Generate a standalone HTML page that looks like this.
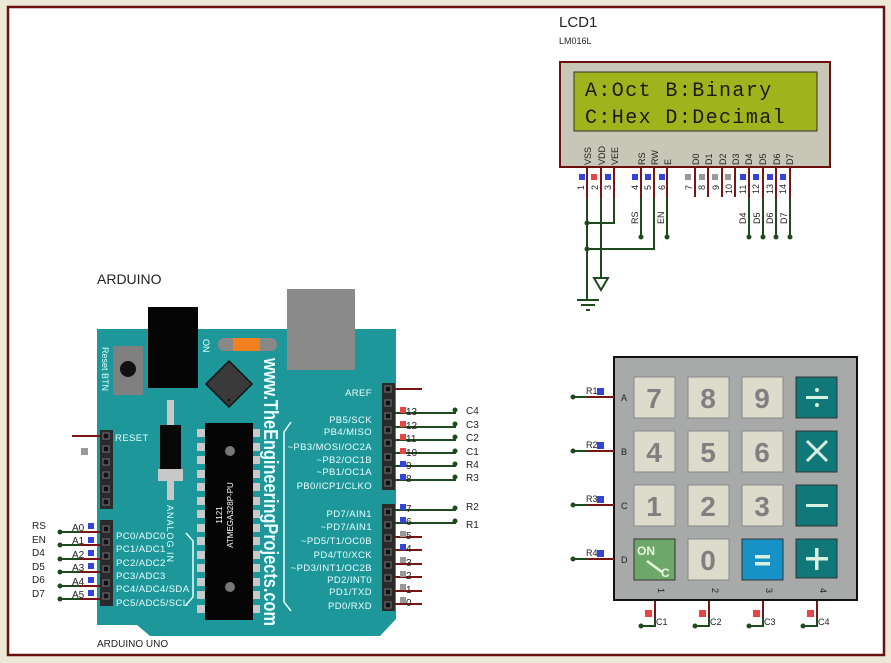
<!DOCTYPE html>
<html><head><meta charset="utf-8"><style>
html,body{margin:0;padding:0;background:#ece9d8;}
svg{display:block;font-family:"Liberation Sans",sans-serif;}
</style></head><body>
<svg width="891" height="663" viewBox="0 0 891 663" xmlns="http://www.w3.org/2000/svg">
<rect x="0" y="0" width="891" height="663" fill="#ece9d8"/>
<rect x="8" y="7" width="876" height="648" fill="#fff" stroke="#6b0f0f" stroke-width="2.5"/>

<!-- LCD -->
<text x="559" y="27" font-size="15" fill="#222">LCD1</text>
<text x="559" y="44" font-size="9" fill="#222">LM016L</text>
<rect x="560" y="62" width="270" height="105" fill="#c8c6b6" stroke="#6b0f0f" stroke-width="2"/>
<rect x="574" y="72" width="243" height="59" fill="#9fb31c" stroke="#333" stroke-width="1"/>
<text x="585" y="96" font-family="Liberation Mono,monospace" font-size="20" fill="#1a1a10" letter-spacing="1.4">A:Oct B:Binary</text>
<text x="585" y="123" font-family="Liberation Mono,monospace" font-size="20" fill="#1a1a10" letter-spacing="1.4">C:Hex D:Decimal</text>
<g font-size="9" fill="#222">
<text transform="translate(591,165) rotate(-90)">VSS</text>
<text transform="translate(605,165) rotate(-90)">VDD</text>
<text transform="translate(618,165) rotate(-90)">VEE</text>
<text transform="translate(645,165) rotate(-90)">RS</text>
<text transform="translate(658,165) rotate(-90)">RW</text>
<text transform="translate(671,165) rotate(-90)">E</text>
<text transform="translate(699,165) rotate(-90)">D0</text>
<text transform="translate(712,165) rotate(-90)">D1</text>
<text transform="translate(726,165) rotate(-90)">D2</text>
<text transform="translate(739,165) rotate(-90)">D3</text>
<text transform="translate(752,165) rotate(-90)">D4</text>
<text transform="translate(766,165) rotate(-90)">D5</text>
<text transform="translate(780,165) rotate(-90)">D6</text>
<text transform="translate(793,165) rotate(-90)">D7</text>
</g>
<g>
<rect x="579" y="174" width="6" height="6" fill="#3344dd"/>
<rect x="591" y="174" width="6" height="6" fill="#e84444"/>
<rect x="605" y="174" width="6" height="6" fill="#3344dd"/>
<rect x="632" y="174" width="6" height="6" fill="#3344dd"/>
<rect x="645" y="174" width="6" height="6" fill="#3344dd"/>
<rect x="659" y="174" width="6" height="6" fill="#3344dd"/>
<rect x="685" y="174" width="6" height="6" fill="#999"/>
<rect x="699" y="174" width="6" height="6" fill="#999"/>
<rect x="712" y="174" width="6" height="6" fill="#999"/>
<rect x="725" y="174" width="6" height="6" fill="#999"/>
<rect x="740" y="174" width="6" height="6" fill="#3344dd"/>
<rect x="753" y="174" width="6" height="6" fill="#3344dd"/>
<rect x="767" y="174" width="6" height="6" fill="#3344dd"/>
<rect x="780" y="174" width="6" height="6" fill="#3344dd"/>
</g>
<g font-size="9" fill="#222">
<text transform="translate(584,190) rotate(-90)">1</text>
<text transform="translate(598,190) rotate(-90)">2</text>
<text transform="translate(611,190) rotate(-90)">3</text>
<text transform="translate(638,190) rotate(-90)">4</text>
<text transform="translate(651,190) rotate(-90)">5</text>
<text transform="translate(665,190) rotate(-90)">6</text>
<text transform="translate(692,190) rotate(-90)">7</text>
<text transform="translate(705,190) rotate(-90)">8</text>
<text transform="translate(719,190) rotate(-90)">9</text>
<text transform="translate(732,194) rotate(-90)">10</text>
<text transform="translate(746,194) rotate(-90)">11</text>
<text transform="translate(759,194) rotate(-90)">12</text>
<text transform="translate(773,194) rotate(-90)">13</text>
<text transform="translate(786,194) rotate(-90)">14</text>
</g>
<g stroke="#7a1515" stroke-width="2" fill="none">
<path d="M587 167V198M601 167V198M614 167V198M641 167V198M654 167V198M667 167V198M695 167V197M708 167V197M722 167V197M735 167V197M749 167V198M763 167V198M776 167V198M790 167V198"/>
</g>
<g stroke="#1e4a1e" stroke-width="2" fill="none">
<path d="M587 198V300M601 198V278M614 198V223H587M641 198V237M654 198V249H587M667 198V237M749 198V237M763 198V237M776 198V237M790 198V237"/>
<path d="M594 278H608L601 290Z"/>
<path d="M577 300H599M581 305H595M586 310H590"/>
</g>
<g fill="#1e4a1e">
<circle cx="587" cy="223" r="2.5"/><circle cx="587" cy="249" r="2.5"/>
<circle cx="641" cy="237" r="2.5"/><circle cx="667" cy="237" r="2.5"/>
<circle cx="749" cy="237" r="2.5"/><circle cx="763" cy="237" r="2.5"/><circle cx="776" cy="237" r="2.5"/><circle cx="790" cy="237" r="2.5"/>
</g>
<g font-size="9" fill="#222">
<text transform="translate(638,224) rotate(-90)">RS</text>
<text transform="translate(664,224) rotate(-90)">EN</text>
<text transform="translate(746,224) rotate(-90)">D4</text>
<text transform="translate(760,224) rotate(-90)">D5</text>
<text transform="translate(773,224) rotate(-90)">D6</text>
<text transform="translate(787,224) rotate(-90)">D7</text>
</g>

<!-- ARDUINO -->
<text x="97" y="284" font-size="14" fill="#222">ARDUINO</text>
<text x="97" y="647" font-size="10" fill="#222">ARDUINO UNO</text>
<polygon points="97,329 396,329 396,619 380,636 150,636 137,625 97,625" fill="#1e979b"/>
<rect x="287" y="289" width="68" height="81" fill="#8a8a8a"/>
<rect x="113" y="346" width="30" height="49" fill="#808080"/>
<circle cx="128" cy="369" r="8" fill="#111"/>
<text transform="translate(102,347) rotate(90)" font-size="9" fill="#dff">Reset BTN</text>
<rect x="148" y="307" width="50" height="81" fill="#050505"/>
<text transform="translate(203,339) rotate(90)" font-size="9" fill="#dff">ON</text>
<rect x="218" y="338" width="59" height="13" rx="6" fill="#888"/>
<rect x="233" y="338" width="27" height="13" fill="#f08020"/>
<polygon points="229,361 252,384 229,407 206,384" fill="#3a3a3a" stroke="#111" stroke-width="1.5"/>
<circle cx="229" cy="400" r="1.3" fill="#111"/>
<rect x="167" y="400" width="7" height="100" fill="#c8c8c8"/>
<rect x="160" y="425" width="21" height="45" fill="#080808"/>
<rect x="158" y="469" width="25" height="12" fill="#c8c8c8"/>
<text transform="translate(167,505) rotate(90)" font-size="9" fill="#dff" letter-spacing="1">ANALOG IN</text>
<g fill="#c9c9c9">
<rect x="197" y="429" width="9" height="8"/><rect x="197" y="443" width="9" height="8"/><rect x="197" y="456" width="9" height="8"/><rect x="197" y="470" width="9" height="8"/><rect x="197" y="483" width="9" height="8"/><rect x="197" y="497" width="9" height="8"/><rect x="197" y="510" width="9" height="8"/><rect x="197" y="524" width="9" height="8"/><rect x="197" y="537" width="9" height="8"/><rect x="197" y="551" width="9" height="8"/><rect x="197" y="564" width="9" height="8"/><rect x="197" y="578" width="9" height="8"/><rect x="197" y="591" width="9" height="8"/><rect x="197" y="605" width="9" height="8"/>
<rect x="251" y="429" width="9" height="8"/><rect x="251" y="443" width="9" height="8"/><rect x="251" y="456" width="9" height="8"/><rect x="251" y="470" width="9" height="8"/><rect x="251" y="483" width="9" height="8"/><rect x="251" y="497" width="9" height="8"/><rect x="251" y="510" width="9" height="8"/><rect x="251" y="524" width="9" height="8"/><rect x="251" y="537" width="9" height="8"/><rect x="251" y="551" width="9" height="8"/><rect x="251" y="564" width="9" height="8"/><rect x="251" y="578" width="9" height="8"/><rect x="251" y="591" width="9" height="8"/><rect x="251" y="605" width="9" height="8"/>
</g>
<rect x="205" y="423" width="48" height="197" fill="#050505"/>
<circle cx="230" cy="451" r="5" fill="#777"/>
<circle cx="230" cy="587" r="5" fill="#777"/>
<text transform="translate(222,515) rotate(-90)" font-size="8" fill="#fff" text-anchor="middle">1121</text>
<text transform="translate(233,515) rotate(-90)" font-size="8" fill="#fff" text-anchor="middle">ATMEGA328P-PU</text>
<text transform="translate(264,358) rotate(90)" font-size="20" font-weight="bold" fill="#e8ffff" textLength="268" lengthAdjust="spacingAndGlyphs">www.TheEngineeringProjects.com</text>
<path d="M291 422 L284 432 V602 L291 611" stroke="#e8ffff" stroke-width="1.5" fill="none"/>
<path d="M186 533 L193 541 V597 L186 605" stroke="#e8ffff" stroke-width="1.5" fill="none"/>
<g font-size="9.5" fill="#e8ffff" text-anchor="end" letter-spacing="0.4">
<text x="372" y="396">AREF</text>
<text x="372" y="423">PB5/SCK</text>
<text x="372" y="435">PB4/MISO</text>
<text x="372" y="450">~PB3/MOSI/OC2A</text>
<text x="372" y="463">~PB2/OC1B</text>
<text x="372" y="475">~PB1/OC1A</text>
<text x="372" y="489">PB0/ICP1/CLKO</text>
<text x="372" y="517">PD7/AIN1</text>
<text x="372" y="530">~PD7/AIN1</text>
<text x="372" y="544">~PD5/T1/OC0B</text>
<text x="372" y="558">PD4/T0/XCK</text>
<text x="372" y="571">~PD3/INT1/OC2B</text>
<text x="372" y="583">PD2/INT0</text>
<text x="372" y="595">PD1/TXD</text>
<text x="372" y="609">PD0/RXD</text>
</g>
<g font-size="9.5" fill="#e8ffff" letter-spacing="0.4">
<text x="115" y="441">RESET</text>
<text x="116" y="539">PC0/ADC0</text>
<text x="116" y="552">PC1/ADC1</text>
<text x="116" y="566">PC2/ADC2</text>
<text x="116" y="579">PC3/ADC3</text>
<text x="116" y="592">PC4/ADC4/SDA</text>
<text x="116" y="606">PC5/ADC5/SCL</text>
</g>
<rect x="382" y="383" width="13" height="107" fill="#2a2a2a"/>
<rect x="382" y="504" width="13" height="107" fill="#2a2a2a"/>
<rect x="100" y="430" width="13" height="79" fill="#2a2a2a"/>
<rect x="100" y="520" width="13" height="86" fill="#2a2a2a"/>
<g fill="#111" stroke="#777" stroke-width="1">
<rect x="385" y="386" width="6" height="6"/><rect x="385" y="400" width="6" height="6"/><rect x="385" y="413" width="6" height="6"/><rect x="385" y="427" width="6" height="6"/><rect x="385" y="440" width="6" height="6"/><rect x="385" y="454" width="6" height="6"/><rect x="385" y="467" width="6" height="6"/><rect x="385" y="480" width="6" height="6"/>
<rect x="385" y="509" width="6" height="6"/><rect x="385" y="522" width="6" height="6"/><rect x="385" y="535" width="6" height="6"/><rect x="385" y="549" width="6" height="6"/><rect x="385" y="562" width="6" height="6"/><rect x="385" y="575" width="6" height="6"/><rect x="385" y="589" width="6" height="6"/><rect x="385" y="602" width="6" height="6"/>
<rect x="103" y="433" width="6" height="6"/><rect x="103" y="446" width="6" height="6"/><rect x="103" y="459" width="6" height="6"/><rect x="103" y="472" width="6" height="6"/><rect x="103" y="486" width="6" height="6"/><rect x="103" y="499" width="6" height="6"/>
<rect x="103" y="526" width="6" height="6"/><rect x="103" y="539" width="6" height="6"/><rect x="103" y="553" width="6" height="6"/><rect x="103" y="566" width="6" height="6"/><rect x="103" y="580" width="6" height="6"/><rect x="103" y="593" width="6" height="6"/>
</g>
<g stroke="#7a1515" stroke-width="2" fill="none">
<path d="M395 389H422"/>
<path d="M395 604H422M395 591H422M395 577H422M395 564H422M395 550H422M395 537H422"/>
</g>
<g stroke="#1e4a1e" stroke-width="2" fill="none">
<path d="M395 413H455V410M395 427H455V424M395 440H455V437M395 453H455V451M395 466H455V464M395 480H455V477M395 510H455V508M395 523H455V521"/>
</g>
<g fill="#1e4a1e">
<circle cx="455" cy="410" r="2.5"/><circle cx="455" cy="424" r="2.5"/><circle cx="455" cy="437" r="2.5"/><circle cx="455" cy="451" r="2.5"/><circle cx="455" cy="464" r="2.5"/><circle cx="455" cy="477" r="2.5"/><circle cx="455" cy="508" r="2.5"/><circle cx="455" cy="521" r="2.5"/>
</g>
<g font-size="10" fill="#222">
<text x="466" y="414">C4</text><text x="466" y="428">C3</text><text x="466" y="441">C2</text><text x="466" y="455">C1</text><text x="466" y="468">R4</text><text x="466" y="481">R3</text><text x="466" y="510">R2</text><text x="466" y="528">R1</text>
</g>
<g fill="#e84444">
<rect x="400" y="407" width="6" height="6"/><rect x="400" y="421" width="6" height="6"/><rect x="400" y="434" width="6" height="6"/><rect x="400" y="448" width="6" height="6"/>
</g>
<g fill="#3344dd">
<rect x="400" y="461" width="6" height="6"/><rect x="400" y="474" width="6" height="6"/><rect x="400" y="504" width="6" height="6"/><rect x="400" y="517" width="6" height="6"/><rect x="400" y="544" width="6" height="6"/>
</g>
<g fill="#999">
<rect x="400" y="531" width="6" height="6"/><rect x="400" y="557" width="6" height="6"/><rect x="400" y="571" width="6" height="6"/><rect x="400" y="584" width="6" height="6"/><rect x="400" y="597" width="6" height="6"/>
<rect x="81" y="448" width="7" height="7"/>
</g>
<g font-size="10" fill="#222">
<text x="406" y="415">13</text><text x="406" y="429">12</text><text x="406" y="442">11</text><text x="406" y="456">10</text><text x="406" y="469">9</text><text x="406" y="482">8</text><text x="406" y="512">7</text><text x="406" y="525">6</text><text x="406" y="539">5</text><text x="406" y="552">4</text><text x="406" y="566">3</text><text x="406" y="579">2</text><text x="406" y="593">1</text><text x="406" y="606">0</text>
</g>
<path d="M72 436H100" stroke="#7a1515" stroke-width="2"/>
<g stroke="#7a1515" stroke-width="2"><path d="M72 532H100M72 545H100M72 559H100M72 572H100M72 586H100M72 599H100"/></g>
<g stroke="#1e4a1e" stroke-width="2"><path d="M60 532H80M60 545H80M60 559H80M60 572H80M60 586H80M60 599H80"/></g>
<g fill="#1e4a1e"><circle cx="60" cy="532" r="2.5"/><circle cx="60" cy="545" r="2.5"/><circle cx="60" cy="559" r="2.5"/><circle cx="60" cy="572" r="2.5"/><circle cx="60" cy="586" r="2.5"/><circle cx="60" cy="599" r="2.5"/></g>
<g font-size="10" fill="#222">
<text x="32" y="529">RS</text><text x="32" y="543">EN</text><text x="32" y="556">D4</text><text x="32" y="570">D5</text><text x="32" y="583">D6</text><text x="32" y="597">D7</text>
<text x="72" y="531">A0</text><text x="72" y="544">A1</text><text x="72" y="558">A2</text><text x="72" y="571">A3</text><text x="72" y="585">A4</text><text x="72" y="598">A5</text>
</g>
<g fill="#3344dd"><rect x="88" y="523" width="6" height="6"/><rect x="88" y="537" width="6" height="6"/><rect x="88" y="550" width="6" height="6"/><rect x="88" y="563" width="6" height="6"/><rect x="88" y="577" width="6" height="6"/><rect x="88" y="590" width="6" height="6"/></g>

<!-- KEYPAD -->
<rect x="614" y="357" width="243" height="243" fill="#a8aaaa" stroke="#111" stroke-width="2"/>
<g stroke="#888" stroke-width="1" fill="#dcdbcc">
<rect x="634" y="377" width="41" height="41"/><rect x="688" y="377" width="41" height="41"/><rect x="742" y="377" width="41" height="41"/>
<rect x="634" y="431" width="41" height="41"/><rect x="688" y="431" width="41" height="41"/><rect x="742" y="431" width="41" height="41"/>
<rect x="634" y="485" width="41" height="41"/><rect x="688" y="485" width="41" height="41"/><rect x="742" y="485" width="41" height="41"/>
<rect x="688" y="539" width="41" height="41"/>
</g>
<g stroke="#333" stroke-width="1">
<rect x="796" y="377" width="41" height="41" fill="#11787a"/>
<rect x="796" y="431" width="41" height="41" fill="#11787a"/>
<rect x="796" y="485" width="41" height="41" fill="#11787a"/>
<rect x="796" y="539" width="41" height="39" fill="#11787a"/>
<rect x="742" y="539" width="41" height="41" fill="#1792c8"/>
<rect x="634" y="539" width="41" height="41" fill="#6da86a"/>
</g>
<g font-size="28" font-weight="bold" fill="#808080" text-anchor="middle">
<text x="654" y="408">7</text><text x="708" y="408">8</text><text x="762" y="408">9</text>
<text x="654" y="462">4</text><text x="708" y="462">5</text><text x="762" y="462">6</text>
<text x="654" y="516">1</text><text x="708" y="516">2</text><text x="762" y="516">3</text>
<text x="708" y="570">0</text>
</g>
<g fill="#d8f0e0">
<rect x="806" y="396" width="22" height="3"/><circle cx="817" cy="390" r="2"/><circle cx="817" cy="405" r="2"/>
<rect x="806" y="504" width="22" height="3"/>
<rect x="806" y="557" width="22" height="3.5"/><rect x="815" y="548" width="3.5" height="22"/>
<rect x="755" y="555" width="15" height="3.5"/><rect x="755" y="562" width="15" height="3.5"/>
</g>
<path d="M807 441L827 461M827 441L807 461" stroke="#d8f0e0" stroke-width="3"/>
<text x="637" y="555" font-size="12" font-weight="bold" fill="#e8f8e0">ON</text>
<path d="M647 561L662 572" stroke="#e8f8e0" stroke-width="2.5"/>
<text x="661" y="577" font-size="12" font-weight="bold" fill="#e8f8e0">C</text>
<g font-size="9" fill="#222">
<text x="621" y="401">A</text><text x="621" y="455">B</text><text x="621" y="509">C</text><text x="621" y="563">D</text>
<text transform="translate(658,588) rotate(90)">1</text><text transform="translate(712,588) rotate(90)">2</text><text transform="translate(766,588) rotate(90)">3</text><text transform="translate(820,588) rotate(90)">4</text>
</g>
<g stroke="#7a1515" stroke-width="2"><path d="M587 397H614M587 451H614M587 505H614M587 559H614M655 601V618M709 601V618M763 601V618M817 601V618"/></g>
<g stroke="#1e4a1e" stroke-width="2" fill="none"><path d="M573 397H588M573 451H588M573 505H588M573 559H588M655 618V626H641M709 618V626H695M763 618V626H749M817 618V626H803"/></g>
<g fill="#1e4a1e"><circle cx="573" cy="397" r="2.5"/><circle cx="573" cy="451" r="2.5"/><circle cx="573" cy="505" r="2.5"/><circle cx="573" cy="559" r="2.5"/><circle cx="641" cy="626" r="2.5"/><circle cx="695" cy="626" r="2.5"/><circle cx="749" cy="626" r="2.5"/><circle cx="803" cy="626" r="2.5"/></g>
<g font-size="9" fill="#222">
<text x="586" y="394">R1</text><text x="586" y="448">R2</text><text x="586" y="502">R3</text><text x="586" y="556">R4</text>
<text x="656" y="625">C1</text><text x="710" y="625">C2</text><text x="764" y="625">C3</text><text x="818" y="625">C4</text>
</g>
<g fill="#3344dd"><rect x="597" y="388" width="7" height="7"/><rect x="597" y="442" width="7" height="7"/><rect x="597" y="496" width="7" height="7"/><rect x="597" y="550" width="7" height="7"/></g>
<g fill="#e84444"><rect x="645" y="610" width="7" height="7"/><rect x="699" y="610" width="7" height="7"/><rect x="753" y="610" width="7" height="7"/><rect x="807" y="610" width="7" height="7"/></g>
</svg>
</body></html>
